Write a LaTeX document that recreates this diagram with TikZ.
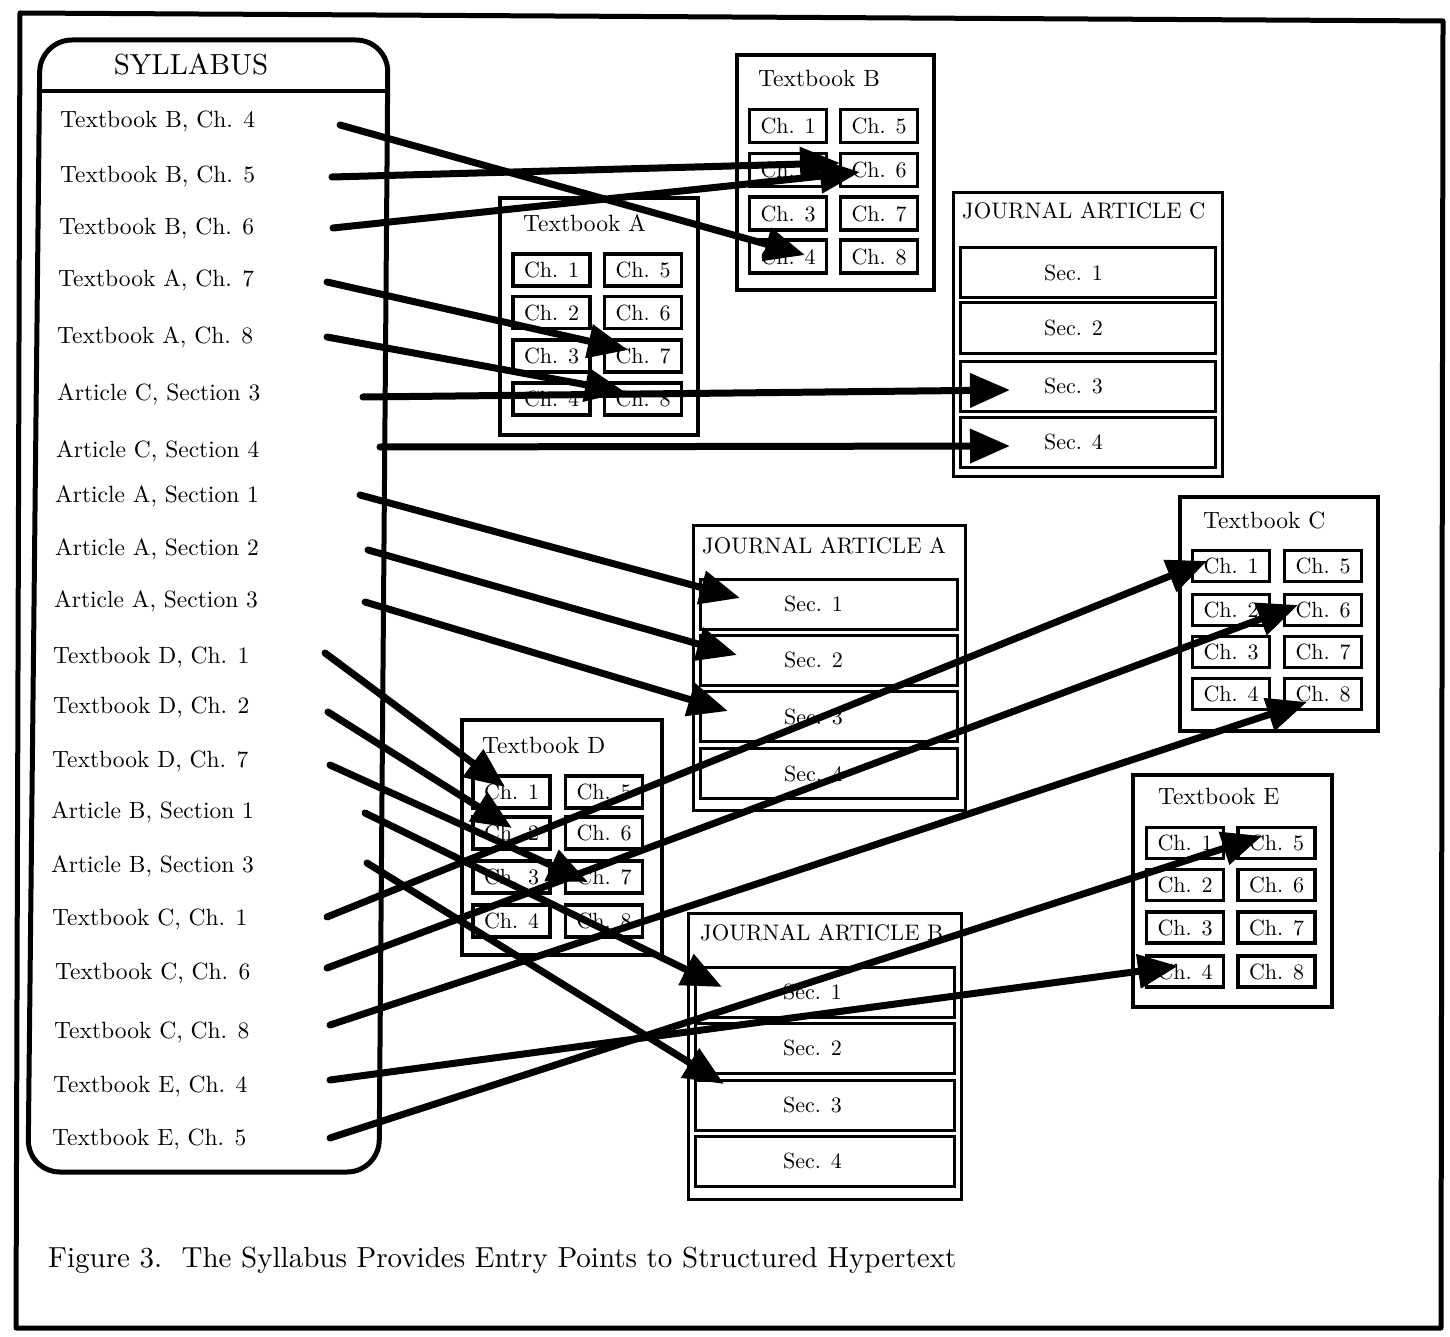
\documentclass[tikz,border=0pt]{standalone}
\usepackage{fontspec}
\setmainfont{lmroman10-regular.otf}
\usetikzlibrary{arrows.meta}
\begin{document}
\begin{tikzpicture}[x=1pt,y=-1pt,
  frame/.style={line width=5pt, line join=round},
  item/.style={anchor=base west, inner sep=0pt, font=\fontsize{23.5}{28}\selectfont},
  bookbox/.style={draw, line width=3.5pt, inner sep=0pt, outer sep=0pt},
  chapbox/.style={draw, line width=3.5pt, minimum width=77pt, minimum height=32pt, inner sep=0pt, font=\fontsize{22}{25}\selectfont},
  btitle/.style={anchor=base west, inner sep=0pt, font=\fontsize{23.5}{27}\selectfont},
  jtitle/.style={anchor=base west, inner sep=0pt, font=\fontsize{22.5}{26}\selectfont},
  secbox/.style={draw, line width=3pt, inner sep=0pt, minimum height=50pt},
  seclab/.style={font=\fontsize{22}{25}\selectfont, inner sep=0pt},
  link/.style={line width=7pt, line cap=round, -{Triangle[length=40pt,width=33pt]}},
]
\useasboundingbox (0,0) rectangle (1450,1337);

% outer frame
\draw[frame] (20,13) -- (1443,21) -- (1441,1328) -- (16,1328) -- cycle;

% syllabus box
\draw[line width=5pt, rounded corners=32pt] (40,40) -- (388,40) -- (379,1172) -- (28,1172) -- cycle;
\draw[line width=4pt] (39.5,91) -- (387.5,91);
\node[anchor=base, inner sep=0pt, font=\fontsize{29}{34}\selectfont] (syl) at (191,75) {SYLLABUS};

% syllabus items
\node[item] (i1) at (60,128) {Textbook B, Ch. 4};
\node[item] (i2) at (60,183) {Textbook B, Ch. 5};
\node[item] (i3) at (59,235) {Textbook B, Ch. 6};
\node[item] (i4) at (58,287) {Textbook A, Ch. 7};
\node[item] (i5) at (57,343) {Textbook A, Ch. 8};
\node[item] (i6) at (57,400) {Article C, Section 3};
\node[item] (i7) at (56,457) {Article C, Section 4};
\node[item] (i8) at (55,502) {Article A, Section 1};
\node[item] (i9) at (55,555) {Article A, Section 2};
\node[item] (i10) at (54,607) {Article A, Section 3};
\node[item] (i11) at (53,663) {Textbook D, Ch. 1};
\node[item] (i12) at (53,713) {Textbook D, Ch. 2};
\node[item] (i13) at (52,767) {Textbook D, Ch. 7};
\node[item] (i14) at (51,818) {Article B, Section 1};
\node[item] (i15) at (51,872) {Article B, Section 3};
\node[item] (i16) at (52,925) {Textbook C, Ch. 1};
\node[item] (i17) at (55,979) {Textbook C, Ch. 6};
\node[item] (i18) at (54,1038) {Textbook C, Ch. 8};
\node[item] (i19) at (53,1092) {Textbook E, Ch. 4};
\node[item] (i20) at (52,1145) {Textbook E, Ch. 5};

% Textbook B
\node[bookbox, minimum width=197pt, minimum height=235pt] (TB) at (835.5,172.5) {};
\node[btitle] (TBt) at (758,87) {Textbook B};
\foreach \n/\x/\y in {1/788/126,2/788/170,3/788/213.5,4/788/256.5,5/879/126,6/879/170,7/879/213.5,8/879/256.5}
  \node[chapbox, minimum height=33pt] (B\n) at (\x,\y) {Ch. \n};

% Textbook A
\node[bookbox, minimum width=198pt, minimum height=237pt] (TA) at (599,316.5) {};
\node[btitle] (TAt) at (523,232) {Textbook A};
\foreach \n/\x/\y in {1/551.5/270,2/551.5/312.5,3/551.5/356,4/551.5/399,5/643/270,6/643/312.5,7/643/356,8/643/399}
  \node[chapbox] (A\n) at (\x,\y) {Ch. \n};

% Textbook D
\node[bookbox, minimum width=200pt, minimum height=235pt] (TD) at (562,837.5) {};
\node[btitle] (TDt) at (482,753) {Textbook D};
\foreach \n/\x/\y in {1/511.5/792,2/511.5/833,3/511.5/877,4/511.5/921,5/604/792,6/604/833,7/604/877,8/604/921}
  \node[chapbox] (D\n) at (\x,\y) {Ch. \n};

% Textbook C
\node[bookbox, minimum width=198pt, minimum height=234pt] (TC) at (1279,614) {};
\node[btitle] (TCt) at (1203,528) {Textbook C};
\foreach \n/\x/\y in {1/1231/566,2/1231/610,3/1231/652,4/1231/694,5/1323/566,6/1323/610,7/1323/652,8/1323/694}
  \node[chapbox, minimum height=31pt] (C\n) at (\x,\y) {Ch. \n};

% Textbook E
\node[bookbox, minimum width=199pt, minimum height=232pt] (TE) at (1232.5,891) {};
\node[btitle] (TEt) at (1158,804) {Textbook E};
\foreach \n/\x/\y in {1/1185/843,2/1185/885,3/1185/927.5,4/1185/971.5,5/1276.5/843,6/1276.5/885,7/1276.5/927.5,8/1276.5/971.5}
  \node[chapbox, minimum height=31pt] (E\n) at (\x,\y) {Ch. \n};

% Journal Article C
\node[bookbox, line width=3pt, minimum width=269pt, minimum height=283pt] (JC) at (1087.5,334.5) {};
\node[jtitle] (JCt) at (962,219) {JOURNAL ARTICLE C};
\foreach \n/\y in {1/273,2/328,3/386,4/442}
  \node[secbox, minimum width=255pt, label={[seclab, xshift=-14pt]center:Sec. \n}] (JC\n) at (1087.5,\y) {};

% Journal Article A
\node[bookbox, line width=3pt, minimum width=272pt, minimum height=285pt] (JA) at (829,667.5) {};
\node[jtitle] (JAt) at (702,553) {JOURNAL ARTICLE A};
\foreach \n/\y in {1/604,2/660,3/716.5,4/773.5}
  \node[secbox, minimum width=257pt, label={[seclab, xshift=-15pt]center:Sec. \n}] (JA\n) at (828.5,\y) {};

% Journal Article B
\node[bookbox, line width=3pt, minimum width=273pt, minimum height=286pt] (JB) at (824.5,1056) {};
\node[jtitle] (JBt) at (700,940) {JOURNAL ARTICLE B};
\foreach \n/\y in {1/992,2/1048,3/1105,4/1161}
  \node[secbox, minimum width=259pt, label={[seclab, xshift=-12pt]center:Sec. \n}] (JB\n) at (824.5,\y) {};

% caption
\node[anchor=base west, inner sep=0pt, font=\fontsize{29}{34}\selectfont] (cap) at (48,1267)
  {Figure 3.\ \ The Syllabus Provides Entry Points to Structured Hypertext};

% link end points
\coordinate (s1) at (340,125);   \coordinate (e1) at (805,255);
\coordinate (s2) at (332,177);   \coordinate (e2) at (840,163);
\coordinate (s3) at (333,228);   \coordinate (e3) at (860,172);
\coordinate (s4) at (327,282);   \coordinate (e4) at (628,350);
\coordinate (s5) at (327,337);   \coordinate (e5) at (625,392);
\coordinate (s6) at (363,397);   \coordinate (e6) at (1010,390);
\coordinate (s7) at (380,447);   \coordinate (e7) at (1010,446);
\coordinate (s8) at (360,495);   \coordinate (e8) at (740,598);
\coordinate (s9) at (368,550);   \coordinate (e9) at (737,655);
\coordinate (s10) at (365,602);  \coordinate (e10) at (728,711);
\coordinate (s11) at (325,653);  \coordinate (e11) at (505,787);
\coordinate (s12) at (328,712);  \coordinate (e12) at (512,828);
\coordinate (s13) at (330,765);  \coordinate (e13) at (588,882);
\coordinate (s14) at (365,813);  \coordinate (e14) at (722,987);
\coordinate (s15) at (367,863);  \coordinate (e15) at (724,1084);
\coordinate (s16) at (327,917);  \coordinate (e16) at (1207,561);
\coordinate (s17) at (327,968);  \coordinate (e17) at (1298,605);
\coordinate (s18) at (330,1025); \coordinate (e18) at (1307,702);
\coordinate (s19) at (330,1080); \coordinate (e19) at (1178,966);
\coordinate (s20) at (330,1138); \coordinate (e20) at (1262,836);

\foreach \k in {1,...,20}
  \draw[link] (s\k) -- (e\k);
\end{tikzpicture}
\end{document}
